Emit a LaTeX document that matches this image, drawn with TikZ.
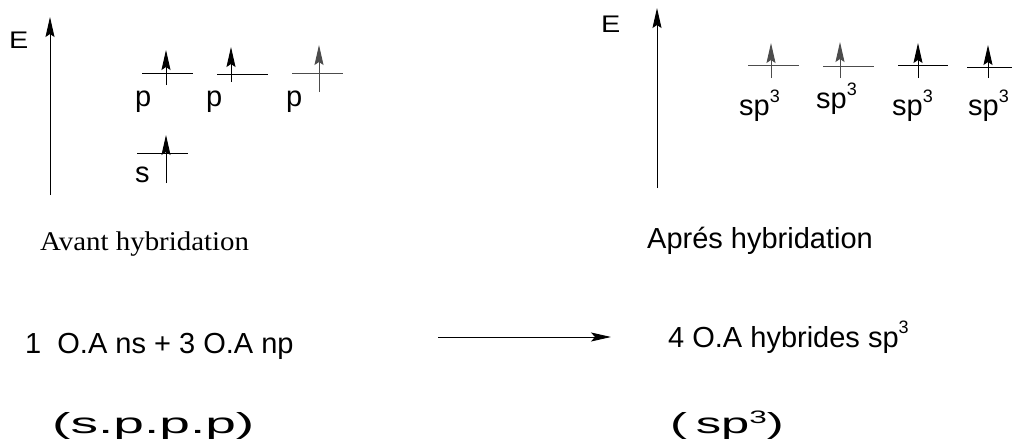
\documentclass[tikz,border=0pt]{standalone}
\usepackage{fontspec}
\usepackage{graphicx}
\setmainfont{Liberation Sans}
\newfontfamily\arfont{Liberation Sans}
\newfontfamily\tmfont{Liberation Serif}
\usetikzlibrary{arrows.meta}
\newcommand\supx[2][13pt]{\raisebox{#1}{\fontsize{18}{18}\selectfont #2}}
\newcommand\widetxt[2][1.9]{\scalebox{#1}[1]{#2}}
\begin{document}
\begin{tikzpicture}[x=1pt,y=-1pt,
  lvl/.style={line width=1pt},
  spin/.style={line width=1pt,-{Stealth[length=20pt,width=9pt,inset=3pt]}},
  axisarrow/.style={line width=1pt,-{Stealth[length=20pt,width=9pt,inset=3pt]}},
  react/.style={line width=0.9pt,-{Stealth[length=20pt,width=9pt,inset=4pt]}},
  lab/.style={anchor=base west,inner sep=0pt,font=\arfont\fontsize{29}{33}\selectfont},
  elab/.style={anchor=base west,inner sep=0pt,font=\arfont\fontsize{24}{28}\selectfont},
  tlab/.style={anchor=base west,inner sep=0pt,font=\tmfont\fontsize{27}{30}\selectfont},
  wlab/.style={anchor=base west,inner sep=0pt,font=\arfont\fontsize{29}{33}\selectfont}]
\useasboundingbox (0,0) rectangle (1012,442);
% axes
\coordinate (ax1b) at (50,195); \coordinate (ax1t) at (50,17);
\draw[axisarrow] (ax1b) -- (ax1t);
\coordinate (ax2b) at (657,188); \coordinate (ax2t) at (657,8);
\draw[axisarrow] (ax2b) -- (ax2t);
\node[elab] (E1) at (9,48) {\scalebox{1.2}[1]{E}};
\node[elab] (E2) at (601,32) {\scalebox{1.2}[1]{E}};
% orbital levels
\foreach \n/\xa/\xb/\yl/\xs/\ya/\yb/\c in {
  p1/142/193/73/166/85/50/black,
  p2/217/268/74/231/82/47/black,
  p3/292/343/73/319/92/45/black!70,
  s/137/188/153/166/183/135/black,
  h1/748/799/65/771/78/43/black!70,
  h2/823/874/66/840/78/42/black!70,
  h3/898/948/65/918/78/43/black,
  h4/967/1012/67/988/78/45/black}{
  \coordinate (\n L) at (\xa,\yl); \coordinate (\n R) at (\xb,\yl);
  \draw[lvl,draw=\c] (\n L) -- (\n R);
  \coordinate (\n B) at (\xs,\ya); \coordinate (\n T) at (\xs,\yb);
  \draw[spin,draw=\c] (\n B) -- (\n T);
}
\node[lab] (lp1) at (135,106) {p};
\node[lab] (lp2) at (206,106) {p};
\node[lab] (lp3) at (286,106) {p};
\node[lab] (ls) at (135,182) {s};
\node[lab] (lh1) at (739,115) {sp\supx{3}};
\node[lab] (lh2) at (816,108) {sp\supx{3}};
\node[lab] (lh3) at (892,115) {sp\supx{3}};
\node[lab] (lh4) at (968,115) {sp\supx{3}};
% captions
\node[tlab] (avant) at (40,250) {\scalebox{1.07}[1]{Avant hybridation}};
\node[lab] (apres) at (647,248) {Aprés hybridation};
\node[lab] (left) at (25,353) {1\ \ O.A ns + 3 O.A np};
\node[lab] (right) at (668,347) {4 O.A hybrides sp\supx[14pt]{3}};
\coordinate (rs) at (438,337); \coordinate (re) at (611,337);
\draw[react] (rs) -- (re);
\node[wlab] (spp) at (52,433) {\widetxt{(s.p.p.p)}};
\node[wlab] (sp3) at (670,433) {\widetxt[1.75]{(\hspace{5pt}sp\supx[10pt]{3})}};
\end{tikzpicture}
\end{document}
